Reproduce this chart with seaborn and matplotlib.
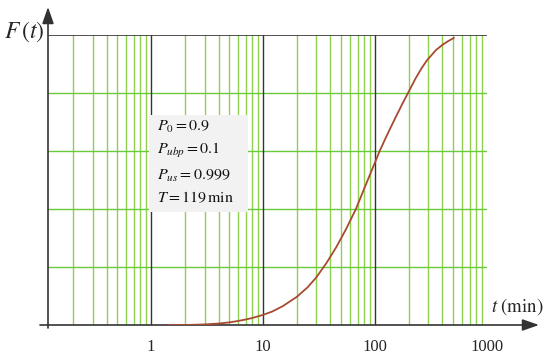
import numpy as np
import pandas as pd
import matplotlib
matplotlib.use("Agg")
import matplotlib.pyplot as plt
from matplotlib.patches import Rectangle
import seaborn as sns

# data
t_min = [1.4, 2.0, 3.0, 4.0, 5.0, 6.0, 7.0, 8.0, 10, 12, 15, 20, 25, 30, 37, 45, 55, 67.5,
         80, 90, 100, 110, 128, 150, 175, 197, 230, 260, 290, 350, 400, 450, 507]
F_t = [0.0, 0.0, 0.002, 0.005, 0.009, 0.014, 0.019, 0.024, 0.035, 0.046, 0.065, 0.097, 0.13,
       0.165, 0.215, 0.268, 0.33, 0.40, 0.47, 0.518, 0.561, 0.60, 0.655, 0.71, 0.762, 0.80,
       0.85, 0.885, 0.912, 0.948, 0.966, 0.979, 0.99]
x_ticks = [1, 10, 100, 1000]
x_tick_labels = ["1", "10", "100", "1000"]
y_grid = [0.2, 0.4, 0.6, 0.8]
params = [r"$P_0 = 0.9$", r"$P_{ubp} = 0.1$", r"$P_{us} = 0.999$", r"$T = 119\,\mathrm{min}$"]

sns.set_style("white")
plt.rcParams["font.family"] = ["Liberation Serif", "DejaVu Serif"]
plt.rcParams["mathtext.fontset"] = "stix"

W, H = 550, 354
fig = plt.figure(figsize=(W / 100, H / 100), dpi=100)
L, R, B, T = 48, 487, 325, 35
ax = fig.add_axes([L / W, 1 - B / H, (R - L) / W, (B - T) / H])

df = pd.DataFrame({"t": t_min, "F": F_t})
sns.lineplot(data=df, x="t", y="F", ax=ax, color="#a84a32", lw=1.3, zorder=4)

ax.set_xscale("log")
ax.set_xlim(0.12, 1000)
ax.set_ylim(0, 1)

green_v = "#8fd14f"
green_h = "#6acb3a"
for k in [0.1, 1, 10, 100]:
    for m in range(2, 10):
        v = k * m
        if v > 0.12:
            ax.axvline(v, color=green_v, lw=1.0, zorder=1)
for v in [1, 10, 100]:
    ax.axvline(v, color="#333333", lw=1.0, zorder=1.5)
for y in y_grid:
    ax.axhline(y, color=green_h, lw=1.0, zorder=1)
ax.axhline(1.0, color="#333333", lw=1.2, zorder=1.5)

# parameter box
bx0, by0 = (149 - L) / (R - L), (B - 212) / (B - T)
bw, bh = 99 / (R - L), 97 / (B - T)
ax.add_patch(Rectangle((bx0, by0), bw, bh, transform=ax.transAxes,
                       facecolor="#f2f2f2", edgecolor="none", zorder=2))
for s, yp in zip(params, [127, 151, 176, 198]):
    fig.text(157 / W, 1 - yp / H, s, fontsize=11.5, ha="left", va="center", color="#111111")

for s in ax.spines.values():
    s.set_visible(False)
ax.set_xticks(x_ticks)
ax.set_xticklabels(x_tick_labels)
ax.set_xticks([], minor=True)
ax.set_yticks([])
ax.tick_params(axis="x", length=0, pad=10, labelsize=12)
ax.set_xlabel("")
ax.set_ylabel("")

# axis arrows
fig_tr = fig.transFigure
def fx(p): return p / W
def fy(p): return 1 - p / H
ax.annotate("", xy=(fx(539), fy(B)), xytext=(fx(40), fy(B)), xycoords=fig_tr, textcoords=fig_tr,
            arrowprops=dict(arrowstyle="-|>,head_length=1.0,head_width=0.35", color="#333333", lw=1.2,
                            shrinkA=0, shrinkB=0), annotation_clip=False)
ax.annotate("", xy=(fx(L), fy(7)), xytext=(fx(L), fy(B + 3)), xycoords=fig_tr, textcoords=fig_tr,
            arrowprops=dict(arrowstyle="-|>,head_length=1.0,head_width=0.35", color="#333333", lw=1.2,
                            shrinkA=0, shrinkB=0), annotation_clip=False)

fig.text(fx(4), fy(32), r"$F\,(t)$", fontsize=17, ha="left", va="center")
fig.text(fx(491), fy(307), r"$t\ (\mathrm{min})$", fontsize=13.5, ha="left", va="center")

fig.savefig("out.png", dpi=100)
